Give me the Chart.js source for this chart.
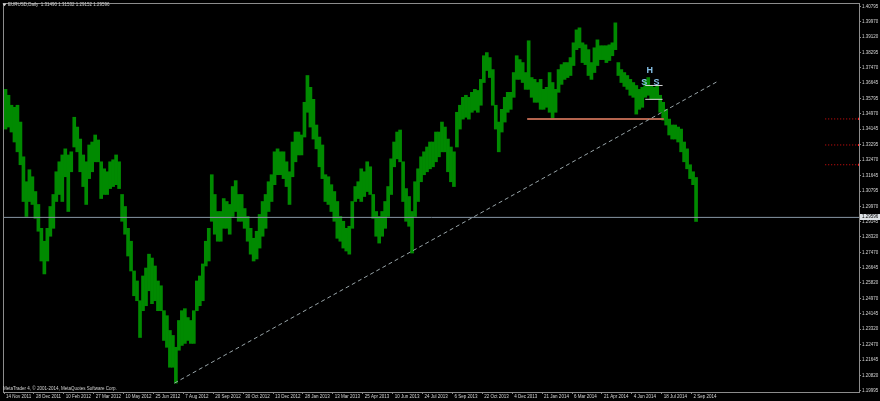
<!DOCTYPE html>
<html>
<head>
<meta charset="utf-8">
<script src="https://cdn.jsdelivr.net/npm/chart.js@4.4.1/dist/chart.umd.min.js"></script>
<style>
  html, body { margin: 0; padding: 0; background: #000; }
  canvas { display: block; }
</style>
</head>
<body>
<canvas id="chart" width="880" height="401"></canvas>
<script>
// EURUSD daily: one bar here = about 3 trading days
const highs = [
  1.3630, 1.3598, 1.3544, 1.3533, 1.3544, 1.3453, 1.3265, 1.3130, 1.3195, 1.3157,
  1.3077, 1.3007, 1.2878, 1.2808, 1.2878, 1.2996, 1.3061, 1.3184, 1.3238, 1.3275,
  1.3308, 1.3275, 1.3292, 1.3479, 1.3426, 1.3361, 1.3275, 1.3238, 1.3329, 1.3345,
  1.3383, 1.3356, 1.3238, 1.3200, 1.3184, 1.3238, 1.3249, 1.3275, 1.3238, 1.3061,
  1.2996, 1.2878, 1.2808, 1.2647, 1.2593, 1.2486, 1.2620, 1.2663, 1.2738, 1.2717,
  1.2674, 1.2593, 1.2567, 1.2432, 1.2405, 1.2325, 1.2298, 1.2234, 1.2379, 1.2432,
  1.2443, 1.2395, 1.2379, 1.2432, 1.2593, 1.2620, 1.2685, 1.2808, 1.2878, 1.3168,
  1.3061, 1.2969, 1.2969, 1.3039, 1.3023, 1.3007, 1.3104, 1.3136, 1.3061, 1.3061,
  1.2985, 1.2942, 1.2878, 1.2824, 1.2862, 1.2953, 1.3023, 1.3061, 1.3130, 1.3168,
  1.3292, 1.3308, 1.3292, 1.3292, 1.3238, 1.3184, 1.3345, 1.3399, 1.3399, 1.3383,
  1.3560, 1.3705, 1.3641, 1.3576, 1.3437, 1.3372, 1.3329, 1.3168, 1.3157, 1.3114,
  1.3077, 1.3023, 1.2942, 1.2916, 1.2878, 1.2889, 1.3023, 1.3104, 1.3130, 1.3200,
  1.3184, 1.3238, 1.3211, 1.3061, 1.2969, 1.2942, 1.2969, 1.3023, 1.3104, 1.3254,
  1.3345, 1.3399, 1.3410, 1.3238, 1.3093, 1.3050, 1.2969, 1.3130, 1.3200, 1.3265,
  1.3292, 1.3318, 1.3345, 1.3345, 1.3399, 1.3399, 1.3453, 1.3426, 1.3361, 1.3318,
  1.3292, 1.3506, 1.3544, 1.3587, 1.3598, 1.3587, 1.3614, 1.3630, 1.3624, 1.3684,
  1.3812, 1.3829, 1.3802, 1.3737, 1.3544, 1.3453, 1.3522, 1.3587, 1.3614, 1.3614,
  1.3721, 1.3812, 1.3791, 1.3775, 1.3721, 1.3893, 1.3694, 1.3684, 1.3667, 1.3684,
  1.3630, 1.3641, 1.3721, 1.3667, 1.3630, 1.3737, 1.3764, 1.3775, 1.3775, 1.3802,
  1.3882, 1.3952, 1.3963, 1.3882, 1.3871, 1.3845, 1.3775, 1.3855, 1.3898, 1.3866,
  1.3866, 1.3866, 1.3871, 1.3882, 1.3990, 1.3775, 1.3737, 1.3721, 1.3705, 1.3684,
  1.3667, 1.3651, 1.3630, 1.3641, 1.3678, 1.3694, 1.3651, 1.3641, 1.3651, 1.3598,
  1.3560, 1.3522, 1.3469, 1.3437, 1.3437, 1.3426, 1.3415, 1.3345, 1.3308, 1.3222,
  1.3184, 1.3153
];
const lows = [
  1.3415, 1.3426, 1.3399, 1.3345, 1.3292, 1.3222, 1.3023, 1.2942, 1.3023, 1.3007,
  1.2932, 1.2862, 1.2701, 1.2631, 1.2701, 1.2835, 1.2878, 1.3023, 1.3061, 1.3023,
  1.3157, 1.2969, 1.3184, 1.3318, 1.3292, 1.3184, 1.3104, 1.3007, 1.3147, 1.3184,
  1.3238, 1.3238, 1.3039, 1.3061, 1.3061, 1.3093, 1.3104, 1.3114, 1.3093, 1.2916,
  1.2846, 1.2728, 1.2647, 1.2513, 1.2486, 1.2287, 1.2432, 1.2459, 1.2540, 1.2470,
  1.2486, 1.2432, 1.2432, 1.2271, 1.2234, 1.2126, 1.2126, 1.2040, 1.2218, 1.2244,
  1.2255, 1.2271, 1.2255, 1.2255, 1.2432, 1.2459, 1.2486, 1.2674, 1.2701, 1.2916,
  1.2846, 1.2808, 1.2808, 1.2878, 1.2878, 1.2846, 1.2942, 1.2969, 1.2916, 1.2916,
  1.2878, 1.2808, 1.2738, 1.2701, 1.2712, 1.2771, 1.2835, 1.2878, 1.2969, 1.3023,
  1.3114, 1.3168, 1.3168, 1.3147, 1.3104, 1.3007, 1.3157, 1.3238, 1.3275, 1.3275,
  1.3372, 1.3506, 1.3426, 1.3361, 1.3308, 1.3211, 1.3147, 1.3023, 1.3007, 1.2969,
  1.2916, 1.2824, 1.2808, 1.2771, 1.2755, 1.2738, 1.2878, 1.3023, 1.3039, 1.3023,
  1.3050, 1.3077, 1.3061, 1.2932, 1.2835, 1.2798, 1.2835, 1.2878, 1.2942, 1.3061,
  1.3211, 1.3254, 1.3238, 1.3023, 1.2916, 1.2889, 1.2744, 1.2942, 1.3023, 1.3130,
  1.3168, 1.3184, 1.3200, 1.3211, 1.3238, 1.3265, 1.3292, 1.3292, 1.3184, 1.3130,
  1.3104, 1.3318, 1.3415, 1.3469, 1.3479, 1.3469, 1.3506, 1.3517, 1.3506, 1.3544,
  1.3667, 1.3732, 1.3694, 1.3544, 1.3415, 1.3292, 1.3399, 1.3453, 1.3506, 1.3522,
  1.3587, 1.3684, 1.3684, 1.3667, 1.3630, 1.3630, 1.3587, 1.3560, 1.3560, 1.3522,
  1.3522, 1.3533, 1.3506, 1.3469, 1.3506, 1.3614, 1.3657, 1.3684, 1.3694, 1.3705,
  1.3759, 1.3845, 1.3855, 1.3775, 1.3764, 1.3705, 1.3684, 1.3721, 1.3759, 1.3791,
  1.3791, 1.3775, 1.3786, 1.3812, 1.3845, 1.3705, 1.3667, 1.3646, 1.3630, 1.3598,
  1.3587, 1.3496, 1.3522, 1.3533, 1.3587, 1.3598, 1.3576, 1.3576, 1.3576, 1.3506,
  1.3463, 1.3437, 1.3383, 1.3361, 1.3361, 1.3345, 1.3292, 1.3238, 1.3200, 1.3147,
  1.3114, 1.2915
];

// time axis: bar index of each date label
const dateTicks = [0, 10, 20, 30, 40, 50, 60, 70, 80, 90, 100, 110, 120, 130, 140, 150, 160, 170, 180, 190, 200, 210, 220, 230];
const dateLabels = [
  "14 Nov 2011", "28 Dec 2011", "10 Feb 2012", "27 Mar 2012", "10 May 2012", "25 Jun 2012",
  "7 Aug 2012", "20 Sep 2012", "30 Oct 2012", "13 Dec 2012", "28 Jan 2013", "13 Mar 2013",
  "25 Apr 2013", "10 Jun 2013", "24 Jul 2013", "6 Sep 2013", "22 Oct 2013", "4 Dec 2013",
  "21 Jan 2014", "6 Mar 2014", "21 Apr 2014", "4 Jun 2014", "18 Jul 2014", "2 Sep 2014"
];
const priceTicks = [
  1.40795, 1.39970, 1.39120, 1.38295, 1.37470, 1.36645, 1.35795, 1.34970, 1.34145,
  1.33295, 1.32470, 1.31645, 1.30795, 1.29970, 1.29145, 1.28320, 1.27470, 1.26645,
  1.25820, 1.24970, 1.24145, 1.23320, 1.22470, 1.21645, 1.20820, 1.19995
];

// drawn objects
const trendX = [57, 238.7];
const trendY = [1.2040, 1.3673];
const supportX = [175, 220.7];
const supportPrice = 1.3469;
const neckX = [214.5, 220.3];
const neckPrices = [1.3651, 1.3576];
const levelX = [274.7, 286];
const levelPrices = [1.3470, 1.3329, 1.3222];
const bidLinePrice = 1.2937;
const bidText = "1.29596";
const patternText = ["H", "S", "S"];
const patternX = [216, 214.2, 218.3];
const patternY = [1.3732, 1.3667, 1.3667];

const fontFamily = '"Liberation Sans", Arial, sans-serif';
const textColor = "#d4d4d4";
const frameColor = "#8c8c8c";

const bars = highs.map((h, i) => ({ x: i + 0.5, y: [lows[i], h] }));

const datasets = [
  {
    type: "line",
    data: trendX.map((x, i) => ({ x: x, y: trendY[i] })),
    borderColor: "#98a4a8",
    borderWidth: 1,
    borderDash: [4, 3],
    pointRadius: 0,
    order: 1,
  },
  {
    type: "line",
    data: supportX.map((x) => ({ x: x, y: supportPrice })),
    borderColor: "#b4644e",
    borderWidth: 2,
    pointRadius: 0,
    order: 2,
  },
];
neckPrices.forEach((p) => {
  datasets.push({
    type: "line",
    data: neckX.map((x) => ({ x: x, y: p })),
    borderColor: "#d6d6d6",
    borderWidth: 1,
    pointRadius: 0,
    order: 1,
  });
});
levelPrices.forEach((p) => {
  datasets.push({
    type: "line",
    data: levelX.map((x) => ({ x: x, y: p })),
    borderColor: "#e01010",
    borderWidth: 1,
    borderDash: [1, 2],
    pointStyle: "rect",
    pointRadius: (c) => (c.dataIndex === 1 ? 1.5 : 0),
    pointBackgroundColor: "#ff2020",
    pointBorderWidth: 0,
    order: 1,
  });
});
datasets.push({
  type: "line",
  data: [{ x: 0, y: bidLinePrice }, { x: 286, y: bidLinePrice }],
  borderColor: "#8796a5",
  borderWidth: 1,
  pointRadius: 0,
  order: 5,
});
datasets.push({
  type: "bar",
  data: bars,
  backgroundColor: "rgb(0,138,0)",
  borderWidth: 0,
  barThickness: 3,
  order: 10,
});

// frame, header, copyright, bid box, pattern letters
const overlay = {
  id: "overlay",
  afterDraw(chart) {
    const { ctx, chartArea, scales } = chart;
    ctx.save();
    ctx.strokeStyle = frameColor;
    ctx.lineWidth = 1;
    ctx.strokeRect(chartArea.left - 0.5, chartArea.top - 0.5,
      chartArea.right - chartArea.left + 1, chartArea.bottom - chartArea.top + 1);

    ctx.fillStyle = textColor;
    ctx.beginPath();
    ctx.moveTo(2.5, 3.5);
    ctx.lineTo(6.5, 3.5);
    ctx.lineTo(4.5, 6.2);
    ctx.closePath();
    ctx.fill();

    ctx.font = "4.5px " + fontFamily;
    ctx.textBaseline = "middle";
    ctx.textAlign = "left";
    ctx.fillText("EURUSD,Daily  1.31490 1.31532 1.29152 1.29596", 8, 5.2);
    ctx.fillText("MetaTrader 4, \u00a9 2001-2014, MetaQuotes Software Corp.", 3, 389);

    const by = Math.round(scales.y.getPixelForValue(bidLinePrice));
    ctx.fillStyle = "#dde2e6";
    ctx.fillRect(860, by - 3, 20, 6);
    ctx.fillStyle = "#000";
    ctx.fillText(bidText, 862, by + 0.2);

    ctx.font = "bold 9px " + fontFamily;
    ctx.textAlign = "center";
    ctx.fillStyle = "#86c0e6";
    patternText.forEach((t, i) => {
      ctx.fillText(t, scales.x.getPixelForValue(patternX[i]), scales.y.getPixelForValue(patternY[i]));
    });
    ctx.restore();
  },
};

new Chart(document.getElementById("chart"), {
  type: "bar",
  data: { datasets: datasets },
  plugins: [overlay],
  options: {
    responsive: false,
    animation: false,
    devicePixelRatio: 1,
    layout: { padding: { top: 1, left: 1, right: 0, bottom: 0 } },
    plugins: { legend: { display: false }, tooltip: { enabled: false } },
    scales: {
      x: {
        type: "linear",
        min: 0,
        max: 286,
        offset: false,
        afterBuildTicks: (s) => { s.ticks = dateTicks.map((v) => ({ value: v })); },
        afterFit: (s) => { s.height = 9; },
        grid: { drawOnChartArea: false, drawTicks: true, tickLength: 2, tickColor: frameColor, offset: false },
        border: { display: false },
        ticks: {
          autoSkip: false,
          maxRotation: 0,
          align: "start",
          labelOffset: 2,
          padding: 0,
          color: textColor,
          font: { family: fontFamily, size: 4.5 },
          callback: (v, i) => dateLabels[i],
        },
      },
      y: {
        position: "right",
        min: 1.1992,
        max: 1.4092,
        afterBuildTicks: (s) => { s.ticks = priceTicks.map((v) => ({ value: v })); },
        afterFit: (s) => { s.width = 21; },
        grid: { drawOnChartArea: false, drawTicks: true, tickLength: 2, tickColor: frameColor },
        border: { display: false },
        ticks: {
          autoSkip: false,
          padding: 1,
          color: textColor,
          font: { family: fontFamily, size: 4.5 },
          callback: (v) => v.toFixed(5),
        },
      },
    },
  },
});
</script>
</body>
</html>
